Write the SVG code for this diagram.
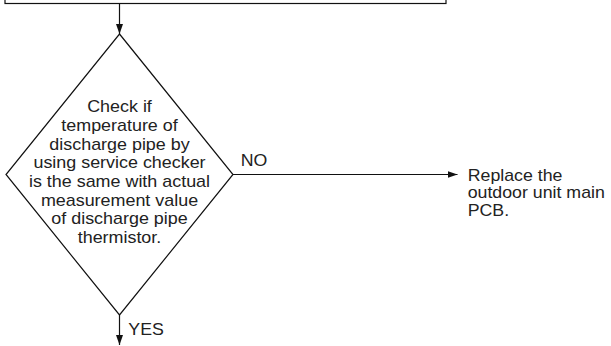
<svg xmlns="http://www.w3.org/2000/svg" width="611" height="346" viewBox="0 0 611 346">
<style>
.ln{stroke:#111;stroke-width:1.2;fill:none}
.t{font-family:"Liberation Sans",Arial,sans-serif;font-size:16px;fill:#222}
</style>
<defs>
<marker id="ah" markerWidth="10" markerHeight="7" refX="10" refY="3.5" orient="auto" markerUnits="userSpaceOnUse">
<path d="M0,0 L10,3.5 L0,7 Z" fill="#111"/>
</marker>
</defs>
<rect width="611" height="346" fill="#fff"/>
<g id="box-prev">
<rect class="ln" x="5" y="-20" width="441" height="23.5"/>
</g>
<g id="decision">
<polygon class="ln" points="119.5,34 233,174.5 119.5,315 6,174.5"/>
<g transform="translate(119.5,0) scale(1.12,1)">
<text class="t" text-anchor="middle" x="0" y="112.3">Check if</text>
<text class="t" text-anchor="middle" x="0" y="131">temperature of</text>
<text class="t" text-anchor="middle" x="0" y="149.7">discharge pipe by</text>
<text class="t" text-anchor="middle" x="0" y="168.4">using service checker</text>
<text class="t" text-anchor="middle" x="0" y="187.1">is the same with actual</text>
<text class="t" text-anchor="middle" x="0" y="205.8">measurement value</text>
<text class="t" text-anchor="middle" x="0" y="224.5">of discharge pipe</text>
<text class="t" text-anchor="middle" x="0" y="243.2">thermistor.</text>
</g>
</g>
<g id="replace">
<g transform="translate(467.7,0) scale(1.11,1)">
<text class="t" x="0" y="181">Replace the</text>
<text class="t" x="0" y="198.5">outdoor unit main</text>
<text class="t" x="0" y="216">PCB.</text>
</g>
</g>
<g id="connectors">
<line class="ln" x1="119.5" y1="3.5" x2="119.5" y2="34" marker-end="url(#ah)"/>
<line class="ln" x1="233" y1="174.5" x2="457.5" y2="174.5" marker-end="url(#ah)"/>
<line class="ln" x1="119.5" y1="315" x2="119.5" y2="345" marker-end="url(#ah)"/>
<g transform="translate(240.7,0) scale(1.11,1)"><text class="t" x="0" y="166">NO</text></g>
<g transform="translate(128.3,0) scale(1.11,1)"><text class="t" x="0" y="335">YES</text></g>
</g>
</svg>
